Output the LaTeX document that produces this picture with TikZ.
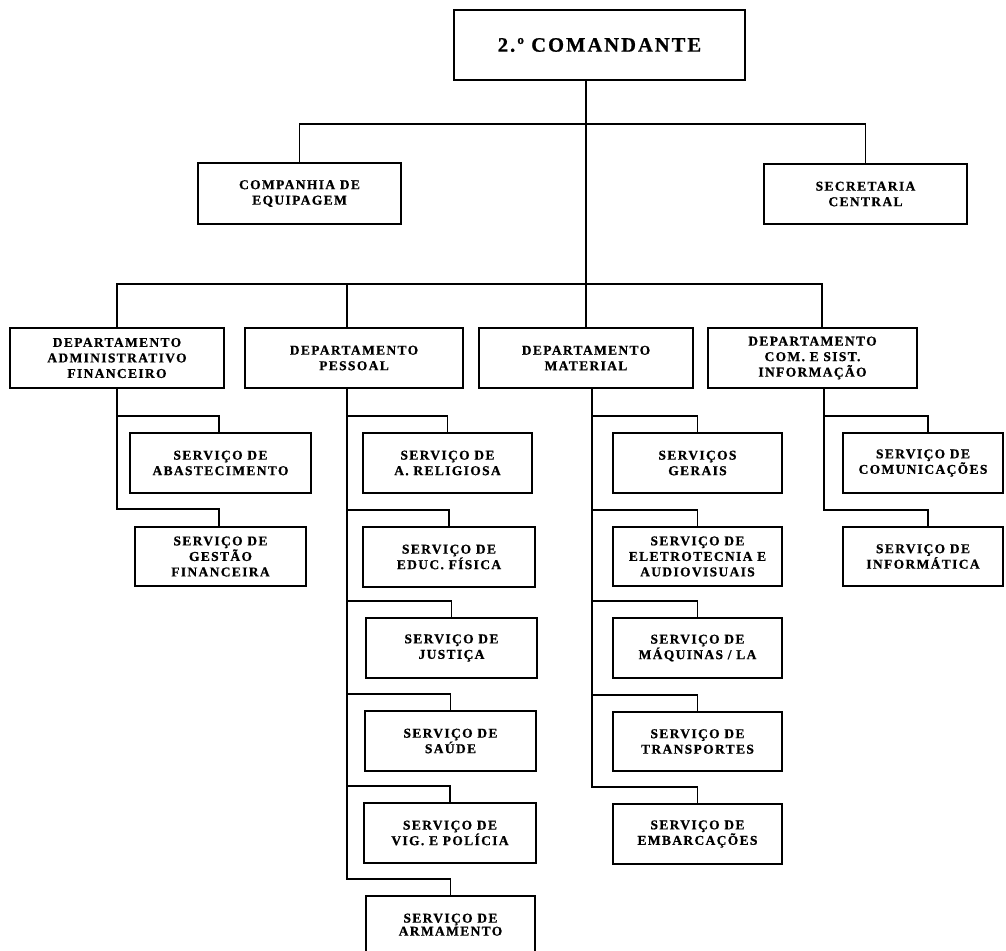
\documentclass[tikz,border=0pt]{standalone}
\usepackage{fontspec}
\setmainfont{Liberation Serif}[LetterSpace=10, BoldFeatures={FakeBold=0.8}]
\begin{document}
\begin{tikzpicture}[x=1pt,y=-1pt,
  box/.style={draw, line width=1.8pt, align=center, inner sep=0pt,
    font=\fontsize{13.5}{15.5}\selectfont\bfseries},
  topbox/.style={box, font=\fontsize{20.5}{22}\selectfont\bfseries},
  link/.style={line width=1.8pt}]
\useasboundingbox (0,0) rectangle (1006,950);
\clip (0,0) rectangle (1006,950);
% top level
\node[topbox, minimum width=291pt, minimum height=70pt] (top) at (599.5,45) {2.º COMANDANTE};
\node[box, minimum width=203pt, minimum height=61pt] (comp) at (299.5,193.5) {COMPANHIA DE\\EQUIPAGEM};
\node[box, minimum width=203pt, minimum height=60pt] (sec) at (865.5,194) {SECRETARIA\\CENTRAL};
% departments
\node[box, minimum width=214pt, minimum height=60pt] (d1) at (117,358) {DEPARTAMENTO\\ADMINISTRATIVO\\FINANCEIRO};
\node[box, minimum width=218pt, minimum height=60pt] (d2) at (354,358) {DEPARTAMENTO\\PESSOAL};
\node[box, minimum width=214pt, minimum height=60pt] (d3) at (586,358) {DEPARTAMENTO\\MATERIAL};
\node[box, minimum width=209pt, minimum height=60pt] (d4) at (812.5,358) {DEPARTAMENTO\\COM. E SIST.\\INFORMAÇÃO};
% services d1
\node[box, minimum width=181pt, minimum height=60pt] (s1a) at (220.5,463) {SERVIÇO DE\\ABASTECIMENTO};
\node[box, minimum width=171pt, minimum height=59pt] (s1b) at (220.5,556.5) {SERVIÇO DE\\GESTÃO\\FINANCEIRA};
% services d2
\node[box, minimum width=169pt, minimum height=60pt] (s2a) at (447.5,463) {SERVIÇO DE\\A. RELIGIOSA};
\node[box, minimum width=172pt, minimum height=60pt] (s2b) at (449,557) {SERVIÇO DE\\EDUC. FÍSICA};
\node[box, minimum width=171pt, minimum height=60pt] (s2c) at (451.5,648) {SERVIÇO DE\\JUSTIÇA};
\node[box, minimum width=171pt, minimum height=60pt] (s2d) at (450.5,741) {SERVIÇO DE\\SAÚDE};
\node[box, minimum width=172pt, minimum height=60pt] (s2e) at (450,833) {SERVIÇO DE\\VIG. E POLÍCIA};
\node[box, minimum width=169pt, minimum height=60pt] (s2f) at (450.5,926) {\raisebox{3pt}{\begin{tabular}{@{}c@{}}SERVIÇO DE\\[-2.5pt]ARMAMENTO\end{tabular}}};
% services d3
\node[box, minimum width=169pt, minimum height=60pt] (s3a) at (697.5,463) {SERVIÇOS\\GERAIS};
\node[box, minimum width=169pt, minimum height=59pt] (s3b) at (697.5,556.5) {SERVIÇO DE\\ELETROTECNIA E\\AUDIOVISUAIS};
\node[box, minimum width=169pt, minimum height=60pt] (s3c) at (697.5,648) {SERVIÇO DE\\MÁQUINAS / LA};
\node[box, minimum width=169pt, minimum height=59pt] (s3d) at (697.5,741.5) {SERVIÇO DE\\TRANSPORTES};
\node[box, minimum width=169pt, minimum height=60pt] (s3e) at (697.5,834) {SERVIÇO DE\\EMBARCAÇÕES};
% services d4
\node[box, minimum width=160pt, minimum height=60pt] (s4a) at (923,463) {SERVIÇO DE\\COMUNICAÇÕES};
\node[box, minimum width=160pt, minimum height=59pt] (s4b) at (923,556.5) {SERVIÇO DE\\INFORMÁTICA};
% connectors
\draw[link] (top.south -| d3.north) -- (d3.north);
\draw[link] (comp.north) -- ++(0,-38) -| (sec.north);
\draw[link] (d1.north) -- ++(0,-43) -| ([xshift=9.5pt]d4.north);
\draw[link] ([xshift=-7pt]d2.north) -- ++(0,-43);
% d1 subtree
\draw[link] ([xshift=-1.5pt]s1a.north) -- ++(0,-16) -| (d1.south);
\draw[link] ([xshift=-1.5pt]s1b.north) -- ++(0,-17) -| (d1.south);
% d2 subtree
\foreach \s in {s2a,s2b,s2c,s2d,s2e,s2f}
  \draw[link] (\s.north) -- ++(0,-16) -| ([xshift=-7pt]d2.south);
% d3 subtree
\foreach \s in {s3a,s3b,s3c,s3d,s3e}
  \draw[link] (\s.north) -- ++(0,-16) -| ([xshift=6pt]d3.south);
% d4 subtree
\foreach \s in {s4a,s4b}
  \draw[link] ([xshift=5pt]\s.north) -- ++(0,-16) -| ([xshift=11.5pt]d4.south);
\end{tikzpicture}
\end{document}
